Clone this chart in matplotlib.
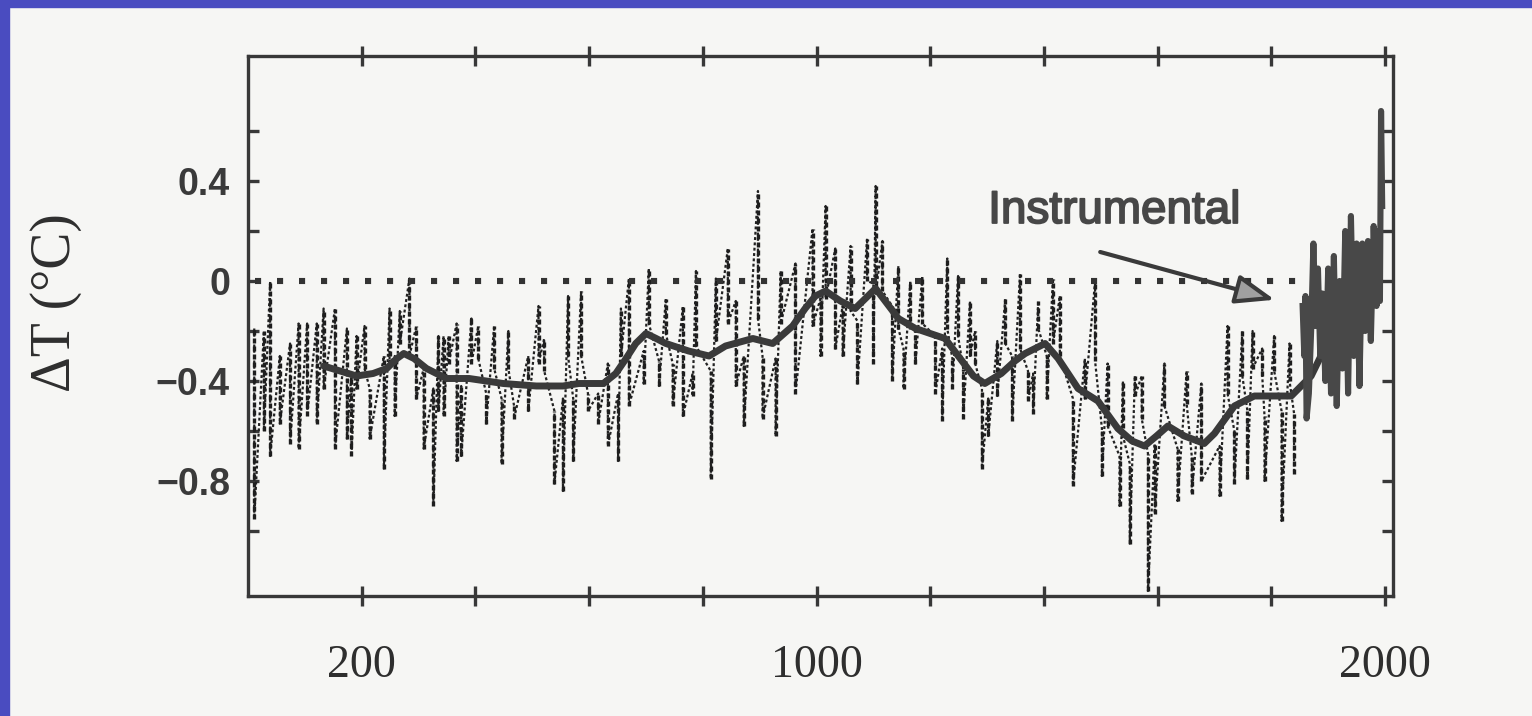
import matplotlib
matplotlib.use("Agg")
import matplotlib.pyplot as plt
import matplotlib.patheffects as pe
from matplotlib.patches import Rectangle

# proxy reconstruction: each spike's year with its upper and lower reading
proxy_year = [11, 28, 39, 56, 74, 89, 104, 121, 133, 153, 174, 182, 191, 205, 214,
              239, 249, 258, 267, 284, 296, 309, 326, 335, 344, 353, 367, 375, 393,
              405, 419, 433, 446, 458, 468, 493, 511, 521, 539, 554, 563, 572, 586,
              598, 616, 633, 651, 656, 670, 696, 705, 723, 735, 747, 765, 782, 788,
              814, 823, 844, 858, 872, 897, 905, 928, 937, 963, 993, 1007, 1016,
              1033, 1046, 1060, 1072, 1089, 1100, 1104, 1116, 1133, 1144, 1153,
              1165, 1174, 1186, 1209, 1221, 1230, 1239, 1249, 1258, 1270, 1279,
              1291, 1302, 1318, 1332, 1344, 1358, 1372, 1381, 1390, 1405, 1416,
              1428, 1451, 1472, 1490, 1502, 1512, 1533, 1539, 1551, 1560, 1572,
              1583, 1595, 1612, 1635, 1651, 1660, 1677, 1709, 1723, 1735, 1749,
              1758, 1767, 1784, 1788, 1805, 1818, 1832, 1840]
proxy_hi = [-0.19, -0.20, 0.00, -0.30, -0.25, -0.17, -0.17, -0.17, -0.11, -0.11, -0.19,
            -0.37, -0.22, -0.18, -0.43, -0.30, -0.11, -0.30, -0.12, 0.01, -0.18, -0.35,
            -0.43, -0.22, -0.22, -0.22, -0.17, -0.42, -0.15, -0.18, -0.45, -0.18, -0.47,
            -0.20, -0.50, -0.30, -0.10, -0.23, -0.52, -0.47, -0.06, -0.47, -0.04, -0.45,
            -0.45, -0.33, -0.45, -0.11, 0.01, -0.28, 0.05, -0.32, -0.07, -0.33, -0.10,
            -0.37, 0.04, -0.36, 0.01, 0.13, -0.08, -0.30, 0.36, -0.30, -0.31, 0.04, 0.07,
            0.21, -0.07, 0.30, 0.13, -0.10, 0.14, -0.16, 0.17, -0.01, 0.38, 0.16, -0.10,
            0.06, -0.27, 0.00, -0.19, 0.02, -0.22, -0.27, 0.09, -0.31, 0.02, -0.35, -0.08,
            -0.20, -0.43, -0.47, -0.24, -0.07, -0.30, 0.03, -0.36, -0.37, -0.08, -0.30,
            0.01, -0.06, -0.47, -0.31, 0.00, -0.59, -0.33, -0.70, -0.40, -0.73, -0.38,
            -0.38, -0.69, -0.65, -0.33, -0.67, -0.36, -0.70, -0.41, -0.66, -0.18, -0.60,
            -0.20, -0.52, -0.20, -0.27, -0.54, -0.22, -0.52, -0.25, -0.53]
proxy_lo = [-0.95, -0.60, -0.70, -0.57, -0.65, -0.67, -0.54, -0.57, -0.43, -0.67, -0.63,
            -0.70, -0.43, -0.35, -0.63, -0.75, -0.33, -0.54, -0.25, -0.30, -0.47, -0.67,
            -0.90, -0.52, -0.54, -0.33, -0.72, -0.70, -0.33, -0.31, -0.57, -0.35, -0.73,
            -0.35, -0.55, -0.52, -0.33, -0.36, -0.81, -0.84, -0.30, -0.72, -0.30, -0.52,
            -0.57, -0.66, -0.72, -0.30, -0.50, -0.41, -0.17, -0.42, -0.21, -0.50, -0.54,
            -0.46, -0.26, -0.79, -0.24, -0.17, -0.42, -0.58, -0.15, -0.55, -0.62, -0.17,
            -0.45, -0.18, -0.30, -0.07, -0.27, -0.30, -0.12, -0.41, 0.00, -0.33, -0.05,
            -0.04, -0.40, -0.19, -0.43, -0.19, -0.33, -0.17, -0.45, -0.56, -0.19, -0.43,
            -0.22, -0.55, -0.30, -0.33, -0.75, -0.62, -0.46, -0.25, -0.56, -0.27, -0.48,
            -0.53, -0.19, -0.47, -0.25, -0.30, -0.82, -0.47, -0.32, -0.78, -0.58, -0.90,
            -0.62, -1.05, -0.46, -0.55, -1.24, -0.93, -0.50, -0.88, -0.49, -0.85, -0.80,
            -0.86, -0.45, -0.81, -0.38, -0.79, -0.35, -0.38, -0.80, -0.36, -0.96, -0.40,
            -0.77]

# smoothed curve
smooth_year = [133, 191, 220, 244, 262, 274, 292, 314, 349, 389, 449, 507, 554, 582,
               625, 647, 665, 682, 700, 718, 735, 775, 811, 840, 888, 923, 958, 980,
               998, 1016, 1042, 1068, 1086, 1104, 1124, 1144, 1174, 1200, 1226, 1256,
               1276, 1296, 1325, 1349, 1367, 1402, 1425, 1460, 1495, 1530, 1555, 1577,
               1598, 1618, 1647, 1682, 1700, 1735, 1770, 1800, 1835, 1870, 1898, 1940,
               1968]
smooth_val = [-0.34, -0.38, -0.37, -0.35, -0.31, -0.29, -0.31, -0.35, -0.39, -0.39, -0.41,
              -0.42, -0.42, -0.41, -0.41, -0.37, -0.31, -0.25, -0.21, -0.23, -0.25, -0.28,
              -0.30, -0.26, -0.23, -0.25, -0.18, -0.11, -0.06, -0.04, -0.08, -0.11, -0.07,
              -0.03, -0.09, -0.15, -0.19, -0.21, -0.23, -0.32, -0.38, -0.41, -0.37, -0.32,
              -0.29, -0.25, -0.31, -0.43, -0.48, -0.59, -0.64, -0.66, -0.62, -0.58, -0.62,
              -0.65, -0.61, -0.50, -0.46, -0.46, -0.46, -0.38, -0.25, -0.08, 0.03]

# instrumental record
instr_year = [1855, 1858, 1860, 1862, 1866, 1870, 1874, 1878, 1882, 1886, 1890, 1895,
              1900, 1905, 1910, 1915, 1920, 1925, 1930, 1935, 1940, 1945, 1950, 1955,
              1960, 1965, 1970, 1975, 1980, 1985, 1988, 1991, 1993, 1995]
instr_val = [-0.10, -0.30, -0.06, -0.55, -0.45, -0.20, 0.15, -0.18, 0.05, -0.30, -0.05,
             -0.40, 0.05, -0.45, 0.10, -0.50, 0.00, -0.35, 0.20, -0.45, 0.26, -0.30,
             0.15, -0.42, 0.15, -0.20, 0.16, -0.24, 0.22, -0.10, 0.20, -0.08, 0.68, 0.30]

x_ticks = list(range(200, 2001, 200))
x_tick_labels = ["200", "", "", "", "1000", "", "", "", "", "2000"]
y_ticks = [-1.0, -0.8, -0.6, -0.4, -0.2, 0.0, 0.2, 0.4, 0.6]
y_tick_labels = ["", "\u22120.8", "", "\u22120.4", "", "0", "", "0.4", ""]

INK = "#383838"
PAPER = "#f6f6f4"

fig = plt.figure(figsize=(15.32, 7.16), dpi=100, facecolor=PAPER)

# blue slide frame at the left and top edges
fig.patches.append(Rectangle((0, 0), 9 / 1532, 1, transform=fig.transFigure,
                             color="#4a4cc0", zorder=0))
fig.patches.append(Rectangle((0, 1 - 7 / 716), 1, 7 / 716, transform=fig.transFigure,
                             color="#4a4cc0", zorder=0))

ax = fig.add_axes([248 / 1532, 1 - 596 / 716, 1145 / 1532, 540 / 716])
ax.set_facecolor(PAPER)
ax.set_xlim(0, 2014)
ax.set_ylim(-1.26, 0.90)

# proxy series as a zigzag through the spike ends
zx, zy = [], []
for yr, hi, lo in zip(proxy_year, proxy_hi, proxy_lo):
    zx += [yr, yr]
    zy += [hi, lo]
ax.plot(zx, zy, color="#222222", lw=1.6, ls=(0, (1.3, 1.1)), zorder=2)
ax.vlines(proxy_year, proxy_lo, proxy_hi, color="#1e1e1e", lw=2.4,
          linestyles=(0, (1.5, 0.9)), zorder=2)

# zero reference
ax.plot([12, 1890], [0, 0], color="#333333", lw=4.4, ls=(0, (1, 2.6)), zorder=2)

ax.plot(smooth_year, smooth_val, color="#3a3a3a", lw=5, solid_capstyle="round",
        solid_joinstyle="round", zorder=3)
ax.plot(instr_year, instr_val, color="#484848", lw=4.4, zorder=3)

ax.text(1302, 0.232, "Instrumental", family="Liberation Sans", fontsize=33,
        color="#474747", ha="left", va="baseline",
        path_effects=[pe.withStroke(linewidth=1.3, foreground="#474747")])
ax.annotate("", xy=(1806, -0.075), xytext=(1499, 0.116),
            arrowprops=dict(arrowstyle="-|>,head_length=2.4,head_width=0.9",
                            lw=3, ec="#3a3a3a", fc="#a0a0a0", shrinkA=0, shrinkB=0))

ax.set_xticks(x_ticks)
ax.set_xticklabels(x_tick_labels, family="Liberation Serif", fontsize=33, color="#2e2e2e")
ax.set_yticks(y_ticks)
ax.set_yticklabels(y_tick_labels, family="Liberation Sans", fontweight="bold",
                   fontsize=27, color="#3a3a3a")
ax.tick_params(axis="x", direction="inout", length=14, width=2.4, color=INK,
               top=True, bottom=True, pad=28)
ax.tick_params(axis="y", direction="in", length=8, width=2.4, color=INK,
               left=True, right=True, pad=13)
for sp in ax.spines.values():
    sp.set_linewidth(2.4)
    sp.set_color(INK)

ax.set_ylabel("\u0394T (\u00b0C)", family="Liberation Serif", fontsize=40, color="#2e2e2e")
ax.yaxis.set_label_coords(-0.145, 0.544)

fig.savefig("out.png", dpi=100, facecolor=PAPER)
